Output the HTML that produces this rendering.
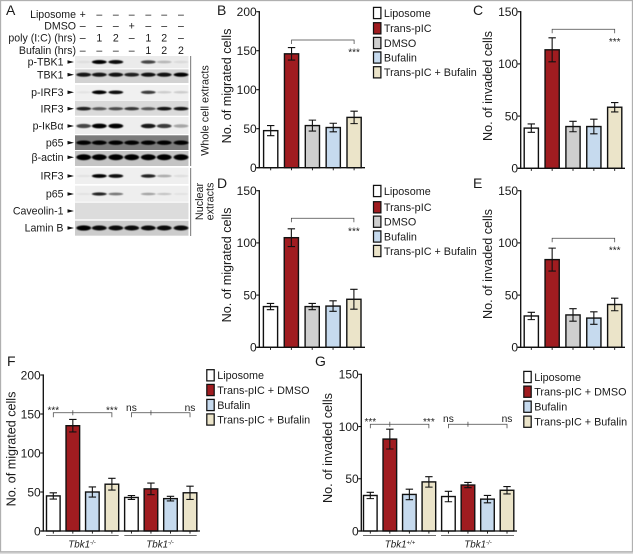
<!DOCTYPE html>
<html lang="en">
<head>
<meta charset="utf-8">
<title>Bufalin migration and invasion figure</title>
<style>
html,body{margin:0;padding:0;background:#fff;width:633px;height:554px;overflow:hidden}
svg{display:block;font-family:"Liberation Sans",sans-serif;filter:blur(.25px)}
text{fill:#1a1a1a}
</style>
</head>
<body>
<svg id="fig" xmlns="http://www.w3.org/2000/svg" width="633" height="554" viewBox="0 0 633 554">
<defs>
<filter id="bandBlur" x="-30%" y="-80%" width="160%" height="260%"><feGaussianBlur stdDeviation="0.8 0.45"/></filter>
</defs>
<rect x="0" y="551.8" width="633" height="2.2" fill="#dddddd"/>
<rect x="0.5" y="0.5" width="632" height="551.3" fill="none" stroke="#b0b0b0" stroke-width="1.3"/>
</svg>
<script>
/* ---------- chart data ---------- */
var categoriesFive = ['Liposome','Trans-pIC','DMSO','Bufalin','Trans-pIC + Bufalin'];
var categoriesFour = ['Liposome','Trans-pIC + DMSO','Bufalin','Trans-pIC + Bufalin'];
var ticks200 = [0,50,100,150,200];
var ticks150 = [0,50,100,150];

var valuesB = [47.5,146,54,51.5,64.5];
var errorsB = [6.5,8,7,5.5,8];
var valuesC = [38.5,113.5,40,40,58.5];
var errorsC = [4,11.5,5,7,4.5];
var valuesD = [39,105,39,39.5,46];
var errorsD = [3,8.5,3,5,9.5];
var valuesE = [30,84,31,28,41];
var errorsE = [3.5,11,6,6,6];
var valuesF = [45,135,50,60,43,54,41.5,49];
var errorsF = [4,8,6.5,7.5,2.5,7.5,3,8.5];
var valuesG = [34,88,35,47,33,44,30.5,39];
var errorsG = [3,9.5,5,5,5,2.5,3.5,3.5];

/* ---------- blot data: band intensity per lane ---------- */
var headerLabels = ['Liposome','DMSO','poly (I:C) (hrs)','Bufalin (hrs)'];
var headerMarks = [
  ['+','–','–','–','–','–','–'],
  ['–','–','–','+','–','–','–'],
  ['–','1','2','–','1','2','–'],
  ['–','–','–','–','1','2','2']
];
var blotLabels = ['p-TBK1','TBK1','p-IRF3','IRF3','p-IκBα','p65','β-actin','IRF3','p65','Caveolin-1','Lamin B'];
var blotBands = [
  [.05,1,.95,0,.7,.22,.07],
  [.9,.9,.92,.85,.92,.92,1],
  [.05,1,.95,0,.75,.15,.15],
  [.85,.6,.65,.75,.6,.9,.9],
  [.7,1,1,0,.9,.75,.3],
  [1,1,1,1,1,1,1],
  [1,1,1,1,1,1,1],
  [.05,1,.95,0,.85,.28,.07],
  [.05,.85,.5,0,.32,.18,.05],
  [0,0,0,0,0,0,0],
  [1,.95,.95,.95,.95,.95,.95]
];

/* ---------- helpers ---------- */
var svg = document.getElementById('fig');
var NS = 'http://www.w3.org/2000/svg';
var fills = {'Liposome':'#ffffff','Trans-pIC':'#a01c20','Trans-pIC + DMSO':'#a01c20','DMSO':'#cfcfcf','Bufalin':'#c6daee','Trans-pIC + Bufalin':'#ebe4c9'};

function make(tag, attrs, text) {
  var node = document.createElementNS(NS, tag);
  for (var k in attrs) node.setAttribute(k, attrs[k]);
  if (text !== undefined) node.textContent = text;
  svg.appendChild(node);
  return node;
}
function slug(s) { return s.toLowerCase().replace(/[^a-z0-9]+/g, '-').replace(/^-|-$/g, ''); }

/* ---------- panel letters ---------- */
var letters = [['A',6,15],['B',217,15],['C',473,15],['D',217,188],['E',473,188],['F',7,366],['G',315,366]];
letters.forEach(function (l) {
  var el = make('text', {x:l[1], y:l[2], 'font-size':14}, l[0]);
  
  
});

/* ---------- blot layout ---------- */
var laneX = [82.7,99.3,115.8,131.7,148.3,164.2,181];
var rowTop = [56,69.3,85,100.7,117,135.3,151,167.7,185.7,202.7,220.7];
var rowBottom = [68.3,83,100,115.7,134,150,166,184,201.7,219.3,235.7];
var rowBand = [62,74.7,92.3,108.7,126,142.7,157.3,176,194,211,228];
var rowBg = ['#ebebeb','#d2d2d2','#f0f0f0','#dadada','#eeeeee','#7c7c7c','#c4c4c4','#efefef','#eeeeee','#dcdcdc','#cccccc'];
var rowHeight = [2,2.1,1.9,1.9,2.4,2.2,3,1.9,1.7,1,2.6];
var headerY = [14,25.7,37.7,50];

headerLabels.forEach(function (label, r) {
  var el = make('text', {x:76, y:headerY[r]+3.8, 'font-size':10.6, 'text-anchor':'end'}, label);
  
  
  headerMarks[r].forEach(function (m, i) {
    var t = make('text', {x:laneX[i], y:headerY[r]+3.8, 'font-size':10.6, 'text-anchor':'middle'}, m);
    
    
  });
});

blotLabels.forEach(function (label, r) {
  var bg = make('rect', {x:75, y:rowTop[r], width:113.5, height:rowBottom[r]-rowTop[r], fill:rowBg[r]});
  
  
  blotBands[r].forEach(function (v, i) {
    if (v <= 0) return;
    var band = make('ellipse', {cx:laneX[i]+(i===0?1:0), cy:rowBand[r], rx:7.4, ry:rowHeight[r]*(0.6+0.4*v), fill:'#060606', opacity:v, filter:'url(#bandBlur)'});
    
    
  });
  var t = make('text', {x:63.5, y:rowBand[r]+3.6, 'font-size':10.6, 'text-anchor':'end'}, label);
  
  
  var arrow = make('path', {d:'M67.5 '+(rowBand[r]-1.8)+'L74 '+rowBand[r]+'L67.5 '+(rowBand[r]+1.8)+'Z', fill:'#111'});
  
  
});

var sep1 = make('line', {x1:190.7, x2:190.7, y1:56, y2:166, stroke:'#666', 'stroke-width':0.9});


var sep2 = make('line', {x1:190.7, x2:190.7, y1:168, y2:236, stroke:'#666', 'stroke-width':0.9});


var sideA = make('text', {transform:'translate(208.5 110.5) rotate(-90)', 'font-size':10.8, 'text-anchor':'middle'}, 'Whole cell extracts');


var sideB = make('text', {transform:'translate(203 201.5) rotate(-90)', 'font-size':10.8, 'text-anchor':'middle'}, 'Nuclear');


var sideC = make('text', {transform:'translate(213.5 201.5) rotate(-90)', 'font-size':10.8, 'text-anchor':'middle'}, 'extracts');



/* ---------- bar charts ---------- */
function drawChart(c) {
  function yScale(v) { return c.y0 - v / c.max * (c.y0 - c.yTop); }
  function xScale(i) { return c.x0 + i * c.step; }
  var key = c.id;

  c.values.forEach(function (v, i) {
    var cat = c.cats[i % c.cats.length];
    var x = xScale(i), top = yScale(v);
    var bar = make('rect', {x:x-c.barW/2, y:top, width:c.barW, height:c.y0-top, fill:fills[cat], stroke:'#111', 'stroke-width':1.4});
    
    
    var hi = yScale(v + c.errors[i]), lo = yScale(v - c.errors[i]);
    var err = make('path', {d:'M'+(x-3.7)+' '+hi+'H'+(x+3.7)+'M'+x+' '+hi+'V'+lo+'M'+(x-3.7)+' '+lo+'H'+(x+3.7), fill:'none', stroke:'#111', 'stroke-width':1.1});
    
    
    var tick = make('line', {x1:x, x2:x, y1:c.y0, y2:c.y0+2.6, stroke:'#111', 'stroke-width':0.9});
    
    
  });

  var xAxis = make('line', {x1:c.axisX-3, x2:c.xEnd, y1:c.y0, y2:c.y0, stroke:'#111', 'stroke-width':1.35});
  
  
  var yAxis = make('line', {x1:c.axisX, x2:c.axisX, y1:c.yTop-0.6, y2:c.y0+0.6, stroke:'#111', 'stroke-width':1.35});
  
  

  c.ticks.forEach(function (t) {
    var y = yScale(t);
    var tk = make('line', {x1:c.axisX-3, x2:c.axisX, y1:y, y2:y, stroke:'#111', 'stroke-width':1.1});
    
    
    var lb = make('text', {x:c.axisX-2.6, y:y+4.3, 'font-size':12, 'text-anchor':'end'}, t);
    
    
  });

  var title = make('text', {transform:'translate('+c.titleX+' '+c.titleY+') rotate(-90)', 'font-size':12.6, 'text-anchor':'middle'}, c.title);
  
  

  if (c.legendY) {
    c.cats.forEach(function (cat, i) {
      var cy = c.legendY[i];
      var box = make('rect', {x:c.legendX, y:cy-5.6, width:7.4, height:11.2, fill:fills[cat], stroke:'#111', 'stroke-width':1.25});
      
      
      var lt = make('text', {x:c.legendX+10.4, y:cy+3.8, 'font-size':10.8}, cat);
      
      
    });
  }

  c.brackets.forEach(function (b) {
    var xa = xScale(b.from), xb = xScale(b.to), y = b.y;
    var path = 'M'+xa+' '+(y+b.drop)+'V'+y+'H'+xb+'V'+(y+b.drop);
    if (b.mid !== undefined) path += 'M'+xScale(b.mid)+' '+(y+2.5)+'V'+(y-2.5);
    var br = make('path', {d:path, fill:'none', stroke:'#444', 'stroke-width':0.75});
    
    
    b.marks.forEach(function (m) {
      var st = make('text', {x:xScale(m.at), y:m.y, 'font-size':m.s === 'ns' ? 10.2 : 10, 'text-anchor':'middle'}, m.s);
      
      
    });
  });

  (c.groups || []).forEach(function (g) {
    var gl = make('line', {x1:g.x1, x2:g.x2, y1:535.4, y2:535.4, stroke:'#555', 'stroke-width':0.9});
    
    
    var gt = make('text', {x:g.cx, y:547.5, 'font-size':9.8, 'font-style':'italic', 'text-anchor':'middle'}, 'Tbk1');
    
    
    var sup = document.createElementNS(NS, 'tspan');
    sup.setAttribute('font-size', '6');
    sup.setAttribute('dy', '-3');
    sup.textContent = g.sup;
    gt.appendChild(sup);
  });
}

drawChart({id:'b', values:valuesB, errors:errorsB, cats:categoriesFive, ticks:ticks200, max:200,
  axisX:259.3, xEnd:365, y0:167.7, yTop:11.7, x0:270.7, step:20.85, barW:14.2,
  title:'No. of migrated cells', titleX:231, titleY:86,
  legendX:373.5, legendY:[13,28.3,43,57.5,72.3],
  brackets:[{from:1,to:4,y:40,drop:4,marks:[{at:4,y:55.5,s:'***'}]}]});

drawChart({id:'c', values:valuesC, errors:errorsC, cats:categoriesFive, ticks:ticks150, max:150,
  axisX:520.7, xEnd:625, y0:168.3, yTop:11.7, x0:531.3, step:20.85, barW:14.2,
  title:'No. of invaded cells', titleX:492, titleY:86,
  brackets:[{from:1,to:4,y:29.3,drop:4,marks:[{at:4,y:45,s:'***'}]}]});

drawChart({id:'d', values:valuesD, errors:errorsD, cats:categoriesFive, ticks:ticks150, max:150,
  axisX:259.3, xEnd:365, y0:347.3, yTop:190.7, x0:270.5, step:20.85, barW:14.2,
  title:'No. of migrated cells', titleX:231, titleY:265,
  legendX:373.5, legendY:[191,207.3,221.7,236.5,251],
  brackets:[{from:1,to:4,y:218.3,drop:4,marks:[{at:4,y:234.5,s:'***'}]}]});

drawChart({id:'e', values:valuesE, errors:errorsE, cats:categoriesFive, ticks:ticks150, max:150,
  axisX:520.7, xEnd:625, y0:347.3, yTop:190.7, x0:531.3, step:20.85, barW:14.2,
  title:'No. of invaded cells', titleX:492, titleY:264,
  brackets:[{from:1,to:4,y:238.3,drop:4,marks:[{at:4,y:253.5,s:'***'}]}]});

drawChart({id:'f', values:valuesF, errors:errorsF, cats:categoriesFour, ticks:ticks200, max:200,
  axisX:43.3, xEnd:200, y0:531, yTop:375, x0:53.3, step:19.53, barW:13.6,
  title:'No. of migrated cells', titleX:15.5, titleY:449,
  legendX:206.8, legendY:[375.3,390,405,419.5],
  brackets:[
    {from:0,to:3,mid:1,y:412.7,drop:4.5,marks:[{at:0,y:413.5,s:'***'},{at:3,y:413.5,s:'***'}]},
    {from:4,to:7,mid:5,y:412.7,drop:4.5,marks:[{at:4,y:411,s:'ns'},{at:7,y:411,s:'ns'}]}
  ],
  groups:[{x1:46,x2:118.7,cx:82,sup:'-/-'},{x1:124.3,x2:196.7,cx:160,sup:'-/-'}]});

drawChart({id:'g', values:valuesG, errors:errorsG, cats:categoriesFour, ticks:ticks150, max:150,
  axisX:361.3, xEnd:517, y0:531, yTop:374.3, x0:370.3, step:19.53, barW:13.6,
  title:'No. of invaded cells', titleX:332, titleY:448,
  legendX:523.8, legendY:[377,391.7,406.7,421.7],
  brackets:[
    {from:0,to:3,mid:1,y:424.3,drop:4,marks:[{at:0,y:425,s:'***'},{at:3,y:425,s:'***'}]},
    {from:4,to:7,mid:5,y:424.3,drop:4,marks:[{at:4,y:422,s:'ns'},{at:7,y:422,s:'ns'}]}
  ],
  groups:[{x1:363,x2:436,cx:400,sup:'+/+'},{x1:441,x2:514,cx:478,sup:'-/-'}]});
</script>
</body>
</html>
